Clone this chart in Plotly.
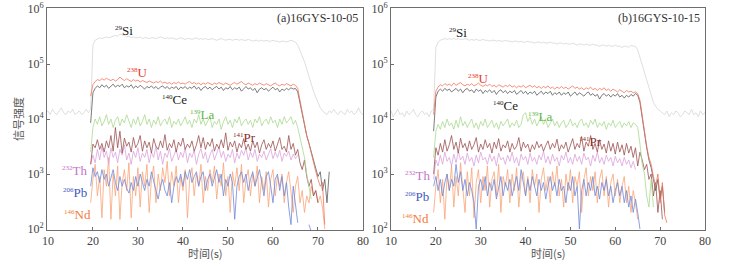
import plotly.graph_objects as go

# ---------------- data (counts per second), sampled every 0.5 s ----------------
DT = 0.5
T0_SI = 9.5      # Si trace includes gas blank before and after ablation
T0 = 19.5        # other elements start with ablation

# Panel (a) 16GYS-10-05
si_a = [1.3e4,1.4e4,1.2e4,1.5e4,1.3e4,1.2e4,1.4e4,1.6e4,1.3e4,1.2e4,1.4e4,1.3e4,1.5e4,1.2e4,1.3e4,1.4e4,1.2e4,1.3e4,1.5e4,1.3e4,
        1.5e4,2.2e5,2.7e5,2.9e5,3.0e5,2.9e5,3.0e5,3.1e5,3.0e5,3.1e5,3.2e5,3.3e5,3.2e5,3.5e5,3.4e5,3.3e5,3.1e5,3.2e5,3.0e5,3.1e5,
        3.0e5,3.0e5,3.1e5,2.9e5,3.0e5,3.0e5,2.9e5,3.0e5,3.0e5,2.9e5,3.0e5,3.1e5,3.0e5,2.9e5,3.0e5,2.9e5,3.0e5,2.9e5,2.8e5,2.9e5,
        3.0e5,2.9e5,2.8e5,2.9e5,2.9e5,2.8e5,2.9e5,3.0e5,2.8e5,2.9e5,2.8e5,2.9e5,2.8e5,2.8e5,2.9e5,2.8e5,2.7e5,2.8e5,2.9e5,2.8e5,
        2.7e5,2.8e5,2.8e5,2.7e5,2.8e5,2.8e5,2.7e5,2.8e5,2.7e5,2.7e5,2.8e5,2.7e5,2.6e5,2.7e5,2.7e5,2.6e5,2.7e5,2.6e5,2.7e5,2.6e5,
        2.6e5,2.7e5,2.6e5,2.6e5,2.5e5,2.6e5,2.6e5,2.5e5,2.6e5,2.7e5,2.6e5,
        2.5e5,2.2e5,1.8e5,1.4e5,1.1e5,8.0e4,6.0e4,4.3e4,3.2e4,2.5e4,2.0e4,1.6e4,1.4e4,
        1.3e4,1.2e4,1.4e4,1.3e4,1.5e4,1.3e4,1.2e4,1.4e4,1.3e4,1.2e4,1.5e4,1.3e4,1.4e4,1.2e4,1.3e4,1.6e4,1.3e4,1.2e4,1.4e4]

u_a = [2.6e4,4.2e4,4.8e4,5.2e4,5.0e4,5.4e4,5.1e4,5.5e4,5.2e4,5.0e4,5.3e4,4.9e4,5.2e4,5.8e4,5.3e4,5.0e4,5.4e4,5.1e4,4.8e4,5.2e4,
       4.9e4,5.1e4,4.7e4,5.0e4,4.8e4,4.6e4,4.9e4,4.7e4,4.5e4,4.8e4,4.6e4,4.9e4,4.5e4,4.7e4,4.4e4,4.6e4,4.3e4,4.6e4,4.4e4,4.7e4,
       4.4e4,4.5e4,4.3e4,4.6e4,4.8e4,4.4e4,4.6e4,4.3e4,4.5e4,4.2e4,4.5e4,4.3e4,4.6e4,4.4e4,4.2e4,4.5e4,4.3e4,4.6e4,4.4e4,4.2e4,
       4.5e4,4.3e4,4.1e4,4.4e4,4.6e4,4.3e4,4.5e4,4.8e4,4.4e4,4.2e4,4.5e4,4.3e4,4.1e4,4.4e4,4.2e4,4.5e4,4.3e4,4.1e4,4.4e4,4.2e4,
       4.0e4,4.3e4,4.5e4,4.2e4,4.0e4,4.3e4,4.1e4,4.4e4,4.2e4,4.0e4,4.3e4,4.1e4,3.6e4,2.2e4,1.3e4,7.5e3,5.0e3,3.6e3,2.4e3,1.5e3,
       1.1e3,8.0e2,6.0e2,7.0e2,1.2e2]
ce_a = [8.5e3,3.0e4,3.6e4,4.0e4,3.7e4,4.2e4,3.8e4,4.1e4,3.6e4,4.0e4,4.3e4,3.8e4,4.1e4,3.9e4,4.3e4,3.7e4,4.0e4,3.8e4,4.2e4,3.6e4,
        4.0e4,3.7e4,4.1e4,3.8e4,3.5e4,3.9e4,3.7e4,4.0e4,3.6e4,3.9e4,3.5e4,3.8e4,4.0e4,3.6e4,3.9e4,3.5e4,3.8e4,3.6e4,3.9e4,3.4e4,
        3.8e4,3.6e4,3.9e4,3.5e4,3.8e4,3.6e4,4.0e4,3.5e4,3.8e4,3.3e4,3.7e4,3.9e4,3.5e4,3.8e4,3.4e4,3.7e4,3.9e4,3.5e4,3.8e4,3.3e4,
        3.7e4,3.5e4,3.9e4,3.4e4,3.7e4,3.5e4,3.8e4,3.2e4,3.6e4,3.9e4,3.5e4,3.7e4,3.3e4,3.6e4,3.0e4,3.5e4,3.7e4,3.4e4,3.6e4,3.2e4,
        3.5e4,3.8e4,3.4e4,3.6e4,3.1e4,3.5e4,3.3e4,3.6e4,3.4e4,3.7e4,3.5e4,3.6e4,3.1e4,1.9e4,1.2e4,7.0e3,5.0e3,3.6e3,2.6e3,1.8e3,
        1.3e3,9.0e2,1.1e3,5.0e2,8.0e2,3.0e2,1.1e3]
la_a = [2.5e3,7.0e3,1.0e4,8.0e3,1.1e4,7.5e3,9.0e3,1.2e4,8.0e3,1.0e4,7.0e3,9.5e3,1.1e4,7.5e3,1.0e4,8.5e3,1.2e4,9.0e3,7.0e3,1.0e4,
        8.0e3,1.1e4,7.5e3,9.0e3,1.2e4,8.0e3,1.0e4,7.0e3,9.5e3,8.0e3,1.1e4,7.5e3,9.0e3,1.0e4,8.0e3,1.1e4,7.0e3,9.0e3,8.0e3,1.0e4,
        7.5e3,9.0e3,1.1e4,8.0e3,9.5e3,7.0e3,1.0e4,8.5e3,1.2e4,8.0e3,1.0e4,7.5e3,9.0e3,1.1e4,7.0e3,9.0e3,8.0e3,1.0e4,6.5e3,9.0e3,
        1.1e4,8.0e3,9.5e3,7.0e3,1.0e4,8.5e3,1.1e4,7.5e3,9.0e3,1.0e4,8.0e3,9.5e3,7.0e3,1.0e4,8.5e3,1.1e4,7.5e3,9.0e3,1.0e4,8.0e3,
        1.1e4,8.5e3,9.5e3,7.0e3,1.0e4,8.0e3,1.1e4,8.5e3,9.5e3,1.1e4,8.0e3,9.5e3,7.0e3,4.5e3,2.8e3,2.0e3,1.0e3,5.5e2,3.5e2]
pr_a = [1.5e3,3.5e3,3.0e3,4.2e3,2.8e3,3.6e3,2.5e3,4.0e3,3.0e3,5.0e3,2.6e3,7.0e3,3.0e3,6.0e3,2.4e3,4.5e3,3.2e3,3.8e3,2.5e3,4.6e3,
        3.0e3,3.6e3,5.0e3,2.6e3,4.0e3,3.0e3,3.8e3,2.4e3,4.4e3,3.2e3,2.8e3,4.0e3,3.0e3,5.2e3,2.7e3,3.6e3,3.0e3,4.2e3,2.5e3,3.8e3,
        3.2e3,4.5e3,2.8e3,3.5e3,3.0e3,4.0e3,2.6e3,3.4e3,5.0e3,3.0e3,4.6e3,2.8e3,3.8e3,3.2e3,4.4e3,2.6e3,3.5e3,2.9e3,4.2e3,3.0e3,
        5.6e3,2.7e3,3.8e3,3.1e3,4.0e3,2.5e3,3.6e3,3.0e3,4.4e3,2.8e3,3.5e3,2.6e3,4.0e3,3.0e3,3.8e3,2.4e3,3.4e3,4.2e3,2.8e3,3.6e3,
        3.0e3,4.0e3,2.6e3,3.5e3,4.6e3,2.8e3,3.2e3,2.5e3,5.0e3,2.8e3,3.6e3,2.2e3,2.8e3,1.6e3,1.2e3,1.8e3,9.0e2,6.0e2,8.0e2,4.0e2,
        5.0e2,3.0e2]
th_a = [1.5e3,2.2e3,1.6e3,2.8e3,1.8e3,3.2e3,2.0e3,2.6e3,1.5e3,3.0e3,2.0e3,2.5e3,1.6e3,2.8e3,2.2e3,3.4e3,1.8e3,2.4e3,1.5e3,2.6e3,
        2.0e3,3.0e3,1.7e3,2.4e3,2.0e3,2.8e3,1.6e3,2.5e3,2.0e3,3.2e3,1.8e3,2.6e3,1.5e3,2.4e3,2.0e3,2.9e3,1.7e3,2.3e3,2.8e3,1.8e3,
        2.5e3,2.0e3,3.0e3,1.6e3,2.4e3,2.0e3,2.7e3,1.5e3,2.3e3,2.9e3,1.9e3,2.5e3,1.6e3,2.2e3,2.8e3,1.8e3,2.4e3,3.1e3,2.0e3,2.6e3,
        1.7e3,2.3e3,2.0e3,2.8e3,1.6e3,2.4e3,1.9e3,2.7e3,2.2e3,3.0e3,1.8e3,2.5e3,2.0e3,2.8e3,1.7e3,2.3e3,2.0e3,2.6e3,1.8e3,2.4e3,
        2.9e3,1.9e3,2.5e3,2.0e3,2.7e3,1.7e3,2.4e3,2.1e3,2.6e3,1.8e3,2.3e3,1.9e3,2.2e3]
pb_a = [6.0e2,1.3e3,9.0e2,1.1e3,7.0e2,1.2e3,8.0e2,1.0e3,6.0e2,9.0e2,1.2e3,7.0e2,5.0e2,9.0e2,6.0e2,8.0e2,5.5e2,4.5e2,7.0e2,5.0e2,
        9.0e2,6.0e2,1.0e3,7.0e2,5.0e2,8.0e2,6.0e2,1.1e3,7.0e2,5.0e2,3.5e2,6.0e2,8.0e2,5.0e2,4.0e2,7.0e2,3.0e2,6.0e2,9.0e2,7.0e2,
        1.0e3,6.0e2,1.1e3,8.0e2,1.2e3,7.0e2,9.0e2,1.1e3,6.0e2,9.0e2,1.1e3,5.0e2,8.0e2,1.0e3,6.0e2,9.0e2,1.2e3,7.0e2,1.0e3,4.0e2,
        8.0e2,6.0e2,1.0e3,7.0e2,1.5e2,6.0e2,9.0e2,1.1e3,7.0e2,1.0e3,5.0e2,8.0e2,1.1e3,6.0e2,9.0e2,1.2e3,7.0e2,4.0e2,9.0e2,1.1e3,
        6.0e2,3.0e2,8.0e2,1.0e3,5.0e2,9.0e2,4.0e2,7.0e2,2.5e2,1.2e2,6.0e2,3.0e2,1.3e2,None,None,None,None,1.2e2,9.0e1]
nd_a = [3.0e2,8.0e2,1.5e3,4.0e2,9.0e2,1.6e2,1.2e3,6.0e2,2.0e3,1.5e2,1.0e3,4.0e2,1.4e3,1.5e2,7.0e2,1.2e3,5.0e2,1.6e3,1.6e2,9.0e2,
        4.0e2,1.3e3,2.5e2,1.1e3,6.0e2,1.5e3,2.0e2,8.0e2,1.4e3,3.0e2,1.0e3,5.0e2,1.3e3,7.0e2,1.7e3,4.0e2,1.1e3,6.0e2,1.4e3,3.0e2,
        9.0e2,5.0e2,1.2e3,1.6e2,8.0e2,1.3e3,4.0e2,1.0e3,6.0e2,1.5e3,3.0e2,9.0e2,5.0e2,1.2e3,7.0e2,1.4e3,3.5e2,1.0e3,6.0e2,1.6e3,
        4.0e2,9.0e2,2.0e2,1.1e3,6.0e2,1.3e3,5.0e2,1.5e3,3.0e2,8.0e2,1.2e3,4.0e2,1.0e3,6.0e2,1.4e3,3.0e2,9.0e2,5.0e2,1.1e3,2.5e2,
        8.0e2,1.2e3,4.0e2,9.0e2,6.0e2,1.0e3,3.0e2,7.0e2,1.1e3,4.0e2,2.0e2,6.0e2,9.0e2,3.0e2,5.0e2,2.0e2,4.0e2,3.0e2,6.0e2,4.0e2,
        5.0e2,3.0e2,4.0e2,2.5e2,1.0e2]

# Panel (b) 16GYS-10-15
si_b = [1.2e4,1.4e4,1.1e4,1.3e4,1.5e4,1.2e4,1.3e4,1.1e4,1.4e4,1.2e4,1.3e4,1.5e4,1.2e4,1.1e4,1.3e4,1.4e4,1.2e4,1.3e4,1.1e4,1.4e4,
        1.5e4,2.0e5,2.5e5,2.7e5,2.8e5,2.9e5,2.8e5,2.9e5,2.8e5,2.9e5,2.8e5,2.9e5,2.8e5,2.8e5,2.9e5,2.8e5,2.7e5,2.8e5,2.7e5,2.8e5,
        2.7e5,2.7e5,2.8e5,2.7e5,2.7e5,2.6e5,2.7e5,2.7e5,2.6e5,2.7e5,2.6e5,2.6e5,2.7e5,2.6e5,2.6e5,2.5e5,2.6e5,2.6e5,2.5e5,2.6e5,
        2.5e5,2.5e5,2.6e5,2.5e5,2.5e5,2.4e5,2.5e5,2.5e5,2.4e5,2.5e5,2.4e5,2.4e5,2.5e5,2.4e5,2.4e5,2.3e5,2.4e5,2.4e5,2.3e5,2.4e5,
        2.3e5,2.3e5,2.4e5,2.3e5,2.2e5,2.3e5,2.3e5,2.2e5,2.3e5,2.2e5,2.2e5,2.3e5,2.2e5,2.2e5,2.1e5,2.2e5,2.2e5,2.1e5,2.2e5,2.1e5,
        2.1e5,2.2e5,2.1e5,2.1e5,2.0e5,2.1e5,2.1e5,2.0e5,2.2e5,2.1e5,2.1e5,
        1.8e5,1.3e5,9.5e4,7.0e4,5.0e4,3.5e4,2.5e4,2.0e4,1.7e4,1.5e4,1.4e4,
        1.3e4,1.2e4,1.4e4,1.1e4,1.3e4,1.2e4,1.4e4,1.3e4,1.1e4,1.2e4,1.4e4,1.3e4,1.2e4,1.5e4,1.2e4,1.3e4,1.1e4,1.4e4,1.2e4,1.3e4,1.5e4]
u_b = [1.2e4,3.2e4,3.8e4,4.2e4,4.0e4,4.4e4,4.1e4,4.3e4,4.0e4,4.5e4,4.1e4,4.3e4,4.6e4,4.2e4,4.0e4,4.3e4,4.1e4,4.4e4,4.0e4,4.2e4,
       4.5e4,4.1e4,3.9e4,4.2e4,4.0e4,4.3e4,3.9e4,4.1e4,3.8e4,4.2e4,4.0e4,3.8e4,4.1e4,3.9e4,4.2e4,3.8e4,4.0e4,3.7e4,4.0e4,3.8e4,
       4.1e4,3.7e4,3.9e4,4.1e4,3.8e4,4.0e4,3.7e4,3.9e4,3.6e4,3.9e4,3.7e4,4.0e4,3.6e4,3.8e4,3.5e4,3.8e4,3.6e4,3.9e4,3.6e4,3.8e4,
       3.5e4,3.7e4,4.0e4,3.6e4,3.8e4,3.5e4,3.7e4,3.4e4,3.7e4,3.5e4,3.8e4,3.4e4,3.6e4,3.3e4,3.6e4,3.4e4,3.7e4,3.3e4,3.5e4,3.2e4,
       3.5e4,3.3e4,3.1e4,3.4e4,3.2e4,3.0e4,3.3e4,3.1e4,3.2e4,3.0e4,3.1e4,2.9e4,2.2e4,1.1e4,5.5e3,3.2e3,2.0e3,1.5e3,9.0e2,6.0e2,
       1.0e3,3.0e2,7.0e2,1.8e2,1.3e2]
ce_b = [6.0e3,2.5e4,3.2e4,3.5e4,3.2e4,3.6e4,3.3e4,3.5e4,3.1e4,3.4e4,3.6e4,3.2e4,3.5e4,3.0e4,3.4e4,3.6e4,3.2e4,3.4e4,3.0e4,3.5e4,
        3.2e4,3.4e4,2.9e4,3.3e4,3.1e4,3.4e4,3.0e4,3.3e4,2.8e4,3.2e4,3.4e4,3.0e4,3.3e4,2.9e4,3.2e4,3.0e4,3.3e4,2.8e4,3.1e4,3.3e4,
        2.9e4,3.2e4,2.8e4,3.1e4,2.9e4,3.2e4,2.7e4,3.0e4,3.2e4,2.8e4,3.1e4,2.9e4,3.2e4,2.7e4,3.0e4,2.8e4,3.1e4,2.7e4,3.0e4,2.8e4,
        3.1e4,2.6e4,2.9e4,3.1e4,2.7e4,3.0e4,2.8e4,2.6e4,2.9e4,3.1e4,2.7e4,2.9e4,2.6e4,2.8e4,2.3e4,2.7e4,2.9e4,2.6e4,2.8e4,2.5e4,
        2.8e4,2.6e4,2.9e4,2.5e4,2.7e4,2.4e4,2.7e4,2.5e4,2.8e4,2.6e4,2.9e4,2.7e4,2.0e4,1.0e4,5.0e3,3.0e3,1.8e3,1.3e3,8.0e2,5.0e2,
        8.0e2,3.5e2,6.0e2,2.0e2]
la_b = [2.0e3,6.0e3,8.0e3,6.5e3,9.0e3,7.0e3,1.0e4,7.5e3,8.5e3,6.5e3,9.5e3,7.0e3,1.1e4,7.5e3,9.0e3,7.0e3,8.5e3,1.0e4,7.0e3,8.5e3,
        6.5e3,9.0e3,7.5e3,1.0e4,7.0e3,8.0e3,9.5e3,7.0e3,8.5e3,6.5e3,9.0e3,7.5e3,8.5e3,1.0e4,7.0e3,8.5e3,7.5e3,9.5e3,7.0e3,8.0e3,
        1.2e4,1.3e4,9.0e3,1.1e4,8.0e3,1.0e4,7.5e3,9.0e3,1.1e4,8.0e3,9.5e3,7.0e3,8.5e3,1.0e4,7.5e3,9.0e3,7.0e3,8.5e3,9.5e3,7.0e3,
        8.0e3,1.0e4,7.5e3,8.5e3,7.0e3,9.0e3,1.0e4,7.5e3,8.5e3,7.0e3,9.5e3,8.0e3,1.0e4,7.0e3,8.5e3,7.5e3,9.0e3,6.5e3,8.5e3,7.5e3,
        9.5e3,7.0e3,8.0e3,9.0e3,7.0e3,8.5e3,7.5e3,9.0e3,7.0e3,8.5e3,8.0e3,7.0e3,3.5e3,1.5e3,1.0e3,4.0e2,2.5e2,8.0e2,2.5e2]
pr_b = [1.0e3,3.0e3,2.2e3,3.6e3,2.5e3,4.2e3,2.6e3,3.4e3,5.0e3,2.8e3,3.8e3,2.4e3,4.5e3,3.0e3,3.6e3,2.6e3,4.0e3,2.8e3,3.4e3,4.6e3,
        2.5e3,3.5e3,2.8e3,4.2e3,3.0e3,3.6e3,2.4e3,3.8e3,2.9e3,4.4e3,2.6e3,3.4e3,3.0e3,4.0e3,2.5e3,3.6e3,2.8e3,3.2e3,4.6e3,2.6e3,
        3.8e3,3.0e3,3.5e3,2.5e3,3.4e3,2.8e3,3.9e3,3.0e3,3.5e3,2.6e3,3.3e3,4.0e3,2.8e3,3.6e3,3.0e3,4.3e3,2.6e3,3.4e3,2.9e3,3.8e3,
        2.5e3,3.5e3,4.4e3,2.8e3,3.6e3,3.0e3,4.8e3,2.6e3,3.8e3,3.2e3,5.0e3,2.8e3,3.6e3,2.5e3,4.2e3,2.8e3,3.5e3,2.4e3,4.0e3,2.6e3,
        3.6e3,2.3e3,3.8e3,2.5e3,3.4e3,2.2e3,3.6e3,2.4e3,3.2e3,2.0e3,3.0e3,1.4e3,2.5e3,1.8e3,1.2e3,1.5e3,8.0e2,1.0e3,4.0e2,7.0e2,
        2.0e2,5.0e2,1.5e2]
th_b = [8.0e2,1.8e3,1.4e3,2.2e3,1.5e3,2.5e3,1.7e3,2.0e3,1.4e3,2.3e3,1.6e3,2.6e3,1.8e3,2.1e3,1.5e3,2.4e3,1.7e3,2.0e3,1.4e3,2.2e3,
        1.6e3,2.5e3,1.8e3,2.0e3,1.5e3,2.3e3,1.7e3,2.1e3,1.4e3,2.4e3,1.8e3,2.0e3,1.5e3,2.2e3,1.7e3,2.5e3,1.6e3,2.0e3,1.4e3,2.3e3,
        1.8e3,2.1e3,1.5e3,2.4e3,1.7e3,2.0e3,1.5e3,2.2e3,1.8e3,2.6e3,1.6e3,2.1e3,1.5e3,2.3e3,1.7e3,2.0e3,1.4e3,2.2e3,1.8e3,2.5e3,
        1.6e3,2.0e3,1.5e3,2.3e3,1.7e3,2.1e3,1.5e3,2.4e3,1.8e3,2.0e3,1.4e3,2.2e3,1.7e3,2.5e3,1.6e3,2.0e3,1.5e3,2.2e3,1.7e3,2.0e3,
        1.4e3,2.1e3,1.6e3,1.9e3,1.4e3,2.0e3,1.5e3,1.8e3,1.3e3,1.7e3,1.2e3]
pb_b = [6.0e2,9.0e2,5.0e2,8.0e2,4.0e2,7.0e2,1.0e3,5.0e2,8.0e2,6.0e2,1.5e3,7.0e2,1.1e3,5.0e2,8.0e2,4.0e2,7.0e2,5.0e2,3.0e2,1.0e2,
        6.0e2,8.0e2,5.0e2,9.0e2,4.0e2,7.0e2,5.0e2,8.0e2,3.5e2,6.0e2,9.0e2,4.0e2,7.0e2,5.0e2,8.0e2,4.0e2,6.0e2,9.0e2,5.0e2,1.2e3,
        7.0e2,4.0e2,8.0e2,5.0e2,9.0e2,6.0e2,4.0e2,8.0e2,5.0e2,7.0e2,3.5e2,6.0e2,9.0e2,5.0e2,7.0e2,4.0e2,8.0e2,5.0e2,6.0e2,3.0e2,
        7.0e2,5.0e2,9.0e2,4.0e2,6.0e2,1.0e2,5.0e2,8.0e2,4.0e2,7.0e2,5.0e2,9.0e2,4.0e2,6.0e2,3.5e2,7.0e2,5.0e2,8.0e2,4.0e2,6.0e2,
        3.0e2,5.0e2,7.0e2,4.0e2,6.0e2,3.0e2,5.0e2,2.5e2,4.0e2,2.0e2,3.5e2,2.0e2,1.0e2]
nd_b = [2.0e2,6.0e2,1.2e3,3.0e2,8.0e2,1.5e2,1.0e3,5.0e2,1.4e3,2.5e2,9.0e2,4.0e2,1.6e3,6.0e2,2.0e2,1.1e3,4.0e2,1.3e3,1.6e2,7.0e2,
        1.2e3,3.0e2,9.0e2,5.0e2,1.4e3,2.5e2,8.0e2,1.1e3,4.0e2,1.5e3,2.0e2,9.0e2,6.0e2,1.2e3,3.0e2,1.0e3,5.0e2,1.3e3,2.5e2,8.0e2,
        1.1e3,4.0e2,9.0e2,3.0e2,1.2e3,6.0e2,1.0e3,2.0e2,8.0e2,1.3e3,5.0e2,9.0e2,3.0e2,1.1e3,6.0e2,1.4e3,4.0e2,8.0e2,2.5e2,1.0e3,
        5.0e2,1.2e3,3.0e2,9.0e2,6.0e2,1.1e3,2.0e2,8.0e2,1.3e3,4.0e2,9.0e2,5.0e2,1.1e3,3.0e2,8.0e2,1.2e3,4.0e2,9.0e2,2.5e2,7.0e2,
        1.0e3,4.0e2,8.0e2,3.0e2,6.0e2,9.0e2,3.0e2,6.0e2,2.0e2,5.0e2,3.0e2,1.5e2]

ELEMENTS = ["Si", "Nd", "Pb", "Th", "Pr", "La", "Ce", "U"]
ISOTOPES = {"Si": "29", "U": "238", "Ce": "140", "La": "139", "Pr": "141", "Th": "232", "Pb": "206", "Nd": "146"}
PANEL_A = {"Si": si_a, "U": u_a, "Ce": ce_a, "La": la_a, "Pr": pr_a, "Th": th_a, "Pb": pb_a, "Nd": nd_a}
PANEL_B = {"Si": si_b, "U": u_b, "Ce": ce_b, "La": la_b, "Pr": pr_b, "Th": th_b, "Pb": pb_b, "Nd": nd_b}
TITLES = ["(a)16GYS-10-05", "(b)16GYS-10-15"]
X_TICKS = [10, 20, 30, 40, 50, 60, 70, 80]
Y_TICKS = [2, 3, 4, 5, 6]

# label anchor positions (time s, log10 counts)
LABELS_A = {"Si": (27.0, 5.6), "U": (29.9, 4.84), "Ce": (38.1, 4.36), "La": (44.3, 4.09),
            "Pr": (53.7, 3.67), "Th": (15.9, 3.07), "Pb": (16.1, 2.67), "Nd": (16.6, 2.27)}
LABELS_B = {"Si": (25.0, 5.58), "U": (29.6, 4.73), "Ce": (35.6, 4.24), "La": (43.2, 4.04),
            "Pr": (54.5, 3.6), "Th": (15.8, 2.98), "Pb": (15.8, 2.6), "Nd": (15.4, 2.2)}

# ---------------- styles ----------------
LINE_COL = {"Si": "#d6d6d6", "U": "#f2735a", "Ce": "#5a5a5a", "La": "#a9d98f", "Pr": "#9c5252",
            "Th": "#dba3dc", "Pb": "#7088d8", "Nd": "#f9a478"}
LABEL_COL = {"Si": "#222222", "U": "#e8392c", "Ce": "#222222", "La": "#62b847", "Pr": "#8e2a2a",
             "Th": "#c874c8", "Pb": "#3f58c4", "Nd": "#f47a3a"}
SERIF = "Liberation Serif, Times New Roman, serif"
W, H = 749, 264


def times(t0, n):
    return [t0 + DT * i for i in range(n)]


fig = go.Figure()
for pi, panel in enumerate([PANEL_A, PANEL_B]):
    xa = "x" if pi == 0 else "x2"
    ya = "y" if pi == 0 else "y2"
    for el in ELEMENTS:
        vals = panel[el]
        t0 = T0_SI if el == "Si" else T0
        fig.add_trace(go.Scatter(x=times(t0, len(vals)), y=vals, mode="lines", xaxis=xa, yaxis=ya,
                                 line=dict(color=LINE_COL[el], width=0.8), showlegend=False,
                                 hoverinfo="skip"))

px = lambda p: p / W
py = lambda p: 1 - p / H
ydom = [py(230), py(8)]
axis_common = dict(showline=True, mirror=True, linecolor="#6e6e6e", linewidth=1, ticks="inside",
                   ticklen=3, tickcolor="#6e6e6e", showgrid=False, zeroline=False, automargin=False,
                   tickfont=dict(family=SERIF, size=12, color="#444"))
fig.update_layout(
    width=W, height=H, margin=dict(l=0, r=0, t=0, b=0, autoexpand=False),
    paper_bgcolor="white", plot_bgcolor="white",
    xaxis=dict(domain=[px(47), px(363)], range=[9.8, 80], tickvals=X_TICKS, anchor="y", **axis_common),
    xaxis2=dict(domain=[px(391), px(705)], range=[10, 80], tickvals=X_TICKS, anchor="y2", **axis_common),
    yaxis=dict(domain=ydom, type="log", range=[1.982, 6.018], tickvals=[10 ** k for k in Y_TICKS],
               ticktext=["10<sup>%d</sup>" % k for k in Y_TICKS], anchor="x", **axis_common),
    yaxis2=dict(domain=ydom, type="log", range=[1.982, 6.018], tickvals=[10 ** k for k in Y_TICKS],
                ticktext=["10<sup>%d</sup>" % k for k in Y_TICKS], anchor="x2", **axis_common),
)

ann = []
for pi, labels in enumerate([LABELS_A, LABELS_B]):
    xr = "x" if pi == 0 else "x2"
    yr = "y" if pi == 0 else "y2"
    for el, (tx, ly) in labels.items():
        ann.append(dict(x=tx, y=ly, xref=xr, yref=yr, showarrow=False, xanchor="center", yanchor="middle",
                        text="<sup><span style='font-size:7px'>%s</span></sup>%s" % (ISOTOPES[el], el),
                        font=dict(family=SERIF, size=13, color=LABEL_COL[el])))
    right = 360 if pi == 0 else 702
    ann.append(dict(x=px(right), y=py(18), xref="paper", yref="paper", xanchor="right", yanchor="middle",
                    showarrow=False, text=TITLES[pi], font=dict(family=SERIF, size=12, color="#333")))
    ann.append(dict(x=px(205 if pi == 0 else 548), y=py(253), xref="paper", yref="paper",
                    xanchor="center", yanchor="middle", showarrow=False,
                    text="时间(s)", font=dict(family="Noto Sans CJK SC", size=11, color="#555")))
ann.append(dict(x=px(18), y=py(119), xref="paper", yref="paper", xanchor="center", yanchor="middle",
                showarrow=False, textangle=-90,
                text="信号强度", font=dict(family="Noto Sans CJK SC", size=11, color="#555")))
fig.update_layout(annotations=ann)

fig.write_html("out.html", config={"displayModeBar": False},
               post_script="document.body.style.margin='0px';document.body.style.padding='0px';")
